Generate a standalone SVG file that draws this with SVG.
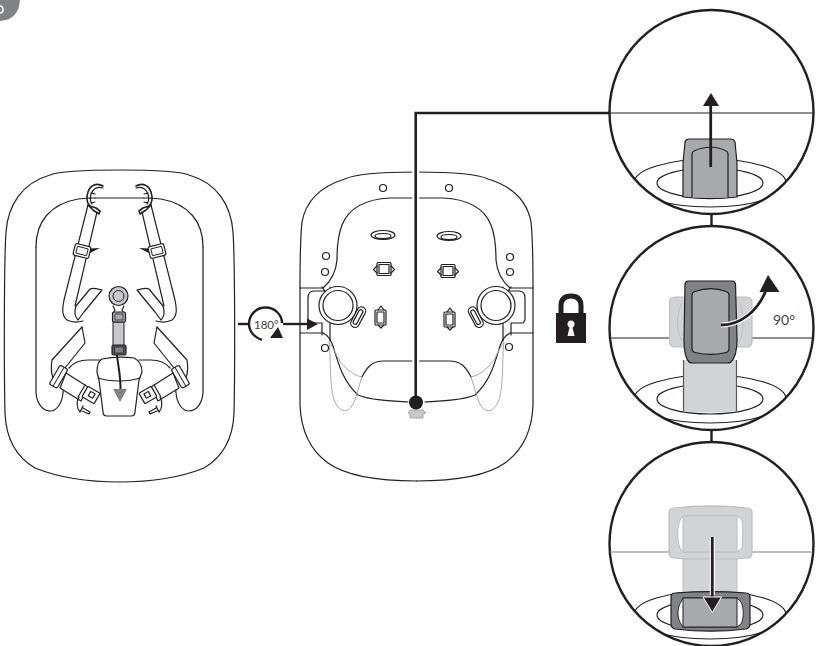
<svg xmlns="http://www.w3.org/2000/svg" xmlns:xlink="http://www.w3.org/1999/xlink" width="829" height="646" viewBox="0 0 829 646">
<style>
.l{fill:none;stroke:#231f20;stroke-width:1.2;stroke-linejoin:round;stroke-linecap:round}
.w{fill:#fff;stroke:#231f20;stroke-width:1.2;stroke-linejoin:round}
.t{fill:none;stroke:#231f20;stroke-width:.9}
.g{fill:none;stroke:#a7a9ac;stroke-width:1}
.zoom{fill:#fff;stroke:#231f20;stroke-width:2.400}
.cn{fill:none;stroke:#231f20;stroke-width:2.400}
.ar{fill:none;stroke:#231f20;stroke-width:2.800}
.halo{fill:none;stroke:#fff;stroke-width:5}
.hd{fill:#231f20;stroke:none}
.lt{fill:#d1d3d4;stroke:#bcbec0;stroke-width:1.2}
.md{fill:#a7a9ac;stroke:#231f20;stroke-width:1.2}
.dk{fill:#808285;stroke:#231f20;stroke-width:1.2}
.lab{font-family:"Lato","Liberation Sans",sans-serif;fill:#414042}
</style>
<defs>
<clipPath id="c1"><circle cx="711.5" cy="112" r="102"/></clipPath>
<clipPath id="c2"><circle cx="711.5" cy="328" r="102"/></clipPath>
<clipPath id="c3"><circle cx="711.5" cy="544" r="102"/></clipPath>
<g id="harness-half">
<path class="l" d="M36,247C36,222 50,204 78,199L90,198"/>
<path class="l" d="M36,247V393C37,404 43,411 50,411C57,411 62,403 63,393C63,387 64,382 65,378"/>
<path class="l" style="stroke-width:1.600" d="M103,186C96,182 90,186 88,192C86,198 87,203 90,206L96,208L100,211L99,214L93,210L88,205"/>
<path class="l" d="M103,188C97,186 93,189 91,194C90,198 90,201 92,204"/>
<path class="l" d="M91,193L95,194M90,198L95,198M91,203L95,202"/>
<path class="l" d="M88,205L64,300C62,310 62,316 67,320C71,322 76,323 83,321"/>
<path class="l" d="M97,212L75,306"/>
<path class="l" d="M102,290C96,288 92,288 90,289L76,306C74,312 75,317 78,320L84,312Z"/>
<g transform="rotate(14 82 251)"><rect class="w" x="74" y="245" width="16" height="12" rx="2"/><rect class="t" x="76.500" y="247.500" width="11" height="7"/></g>
<path class="hd" d="M90,248.500L100,248L90,253Z"/>
<path class="l" d="M82,327L52,360C51,366 51,372 53,378"/>
<path class="l" d="M85,343L82,327M85,343L65,368"/>
<path class="l" d="M69,368C74,362 80,360 88,360H100"/>
<g transform="rotate(30 59 377)"><rect class="w" x="54" y="366" width="9" height="22" rx="2"/><path class="t" d="M58.500,366V388"/></g>
<path class="w" d="M66,373L88,387L81,401L60,388Z"/>
<g transform="rotate(30 91 395)"><rect class="w" x="84" y="389" width="14" height="12" rx="1"/><rect class="w" x="89" y="392" width="5" height="5"/></g>
<path class="l" d="M79,397C76,402 77,409 80,412L83,406M83,408L90,412L89,414L82,411"/>
<path class="l" d="M85,385L78,397"/>
</g>
<g id="seat-half">
<path class="l" d="M416.500,172C385,172 355,174 345,179C322,186 306,200 302,222C300,240 300,270 300,288H323C330,282 336,272 337,260C337,245 338,235 342,225C350,205 370,199 390,198L416.500,198"/>
<path class="l" d="M300,288V333M300,333H323C327,335 331,340 333,346C338,362 342,380 358,395C370,400 390,401 408,402"/>
<path class="l" d="M300,333V405C301,432 310,450 328,463C345,475 375,481 416.500,481"/>
<path class="l" d="M416.500,361H384C372,361 367,367 362,377"/>
<path class="g" d="M329,342C331,352 329,390 335,402C340,413 349,414 354,402C358,392 359,385 362,377C352,375 341,366 335,352C333,348 331,345 329,342"/>
<path class="l" d="M325,291H314C310,291 308,294 308,298V320L310,323H322M322,323V335M330,323V341M325,291L322,287M330,291V287"/>
</g>
</defs>

<g id="connectors">
<path class="cn" d="M238,324H248"/>
<path class="cn" d="M283,324H308"/>
<path class="hd" d="M307,318.500L318,324L307,330Z"/>
<path class="cn" d="M262,340C254,337 249,331 249,324C249,315 256,307.500 265.500,307.500C275,307.500 282,315 282,323"/>
<path class="hd" d="M270,338L283,338L278,327Z"/>
<path class="cn" d="M711.500,214V226"/>
<path class="cn" d="M711.500,430V442"/>
</g>

<g id="badge">
<path fill="#808285" d="M0,0H20C19,13 13,20 0,21Z"/>
<path fill="none" stroke="#fff" stroke-width="1.500" d="M0,6C2,6 3,8 3,10C3,12 2,13 0,13"/>
</g>

<g id="harness-seat">
<path class="l" d="M119.500,170C85,170 60,171 50,175C22,183 8,205 6,232C4,260 4,370 5,413C6,440 18,458 35,468C60,478 90,482 119.500,482C149,482 179,478 204,468C221,458 233,440 234,413C235,370 235,260 233,232C231,205 217,183 189,175C179,171 154,170 119.500,170Z"/>
<path class="l" d="M95,198H144"/>
<use href="#harness-half"/>
<use href="#harness-half" transform="translate(239 0) scale(-1 1)"/>
<path class="w" d="M102,359C112,357 126,357 134,358C140,361 142,366 142,372L139,380L135,412C135,415 134,416 131,416H107C104,416 103,415 103,412L99,380L97,372C97,366 98,361 102,359Z"/>
<path class="l" d="M98,378C110,382 128,382 140,378"/>
<rect x="113" y="322" width="11" height="24" fill="#c8c8ca" stroke="#231f20" stroke-width="1"/>
<path class="l" d="M113,306L115,310L113,313H124L122,310L124,306"/>
<circle cx="118.500" cy="296" r="9.500" fill="#c8c8ca" stroke="#231f20" stroke-width="1.200"/>
<circle cx="118.500" cy="296" r="5.500" fill="#c8c8ca" stroke="#231f20" stroke-width="1"/>
<rect x="112.500" y="312" width="13" height="10" rx="1.500" fill="#a7a9ac" stroke="#231f20" stroke-width="1.200"/>
<rect x="115" y="314" width="8" height="6" fill="#a7a9ac" stroke="#231f20" stroke-width=".7"/>
<rect x="112" y="345" width="14" height="10" rx="1.500" fill="#58595b" stroke="#231f20" stroke-width="1.200"/>
<rect x="114.500" y="347" width="9" height="6" fill="#808285" stroke="#231f20" stroke-width=".7"/>
<path d="M117,355C118,366 121,376 120.500,392" fill="none" stroke="#231f20" stroke-width="2"/>
<path fill="#808285" d="M113,389H127L120,402Z"/>
</g>

<g id="shell-seat">
<use href="#seat-half"/>
<use href="#seat-half" transform="translate(833 0) scale(-1 1)"/>
<g class="l">
<circle cx="383" cy="188" r="3.500"/><circle cx="449" cy="188" r="3.500"/>
<circle cx="326" cy="256" r="3.500"/><circle cx="325" cy="272" r="3.500"/><circle cx="325" cy="348" r="3.500"/>
<circle cx="510" cy="257" r="3.500"/><circle cx="510" cy="272" r="3.500"/><circle cx="509" cy="347" r="3.500"/>
<ellipse cx="383" cy="235" rx="12" ry="4.500"/><ellipse cx="383" cy="236" rx="8" ry="2.500"/>
<ellipse cx="449" cy="236" rx="12" ry="4.500"/><ellipse cx="449" cy="237" rx="8" ry="2.500"/>
<path d="M377,266L373.500,269.500L377,273M391,266L394.500,269.500L391,273"/>
<rect x="377" y="262.500" width="14" height="13" rx="1"/><rect x="379" y="264.500" width="10" height="9"/>
<path d="M441,268L437.500,271.500L441,275M455,268L458.500,271.500L455,275"/>
<rect x="441" y="264.500" width="14" height="13" rx="1"/><rect x="443" y="266.500" width="10" height="9"/>
<path d="M378,310L381,306L384,310M378,325L381,328L384,325"/>
<rect x="375" y="310" width="11" height="15" rx="1"/><rect x="377" y="312" width="7" height="11"/>
<path d="M447,312L450,308L453,312M447,327L450,330L453,327"/>
<rect x="444" y="312" width="11" height="15" rx="1"/><rect x="446" y="314" width="7" height="11"/>
</g>
<circle class="w" cx="338" cy="305.500" r="19"/><circle class="l" cx="338" cy="305.500" r="15"/>
<circle class="w" cx="496" cy="305.500" r="19"/><circle class="l" cx="496" cy="305.500" r="15"/>
<g transform="rotate(28 358 317)"><rect class="w" x="354" y="306" width="8.500" height="22" rx="4"/><rect class="l" x="356" y="309" width="4" height="16" rx="2"/></g>
<g transform="rotate(-28 476 317)"><rect class="w" x="471.500" y="306" width="8.500" height="22" rx="4"/><rect class="l" x="473.500" y="309" width="4" height="16" rx="2"/></g>
<path fill="#c8c8ca" stroke="#a7a9ac" stroke-width="1" d="M410,410L408,413L410,414V418H423V414L426,413L423,410Z"/>
</g>

<g id="leader">
<path fill="none" stroke="#fff" stroke-width="7" d="M415.700,402V170"/>
<path fill="none" stroke="#231f20" stroke-width="2.600" d="M415.700,402V113H611"/>
<circle cx="416" cy="402.500" r="7" fill="#231f20"/>
</g>

<g id="rotate-label"><text class="lab" x="254" y="329" font-size="11.500">180°</text></g>

<g id="lock">
<path fill="none" stroke="#231f20" stroke-width="5" d="M561,314V306C561,299 565,296 571,296C577,296 581,299 581,306V314"/>
<rect x="556" y="313" width="30" height="30" fill="#231f20"/>
<path fill="#fff" d="M567.500,336L569.500,327.500C568,326.500 567.500,325.500 567.500,324C567.500,322 569,320.500 571,320.500C573,320.500 574.500,322 574.500,324C574.500,325.500 574,326.500 572.500,327.500L574.500,336Z"/>
</g>

<g id="zoom-1">
<circle class="zoom" cx="711.500" cy="112" r="102"/>
<g clip-path="url(#c1)">
<path class="l" d="M610,113H813"/>
<ellipse class="l" cx="710" cy="183" rx="76" ry="24"/>
<ellipse class="l" cx="710" cy="183" rx="53" ry="15"/>
</g>
<path class="md" d="M683,197V163L685,142C685.500,140 687,139 689,139H731C733,139 734,140 735,142L737,163V197C720,199 700,199 683,197Z"/>
<path class="md" d="M692,197.500V154C692,152 693,151.500 694,151C704,146 718,146 726,151C727.500,151.500 728,152 728,154V197.500"/>
<path class="ar" d="M710.700,167V104"/>
<path class="hd" d="M711,93L703,106H719Z"/>
</g>

<g id="zoom-2">
<circle class="zoom" cx="711.500" cy="328" r="102"/>
<g clip-path="url(#c2)">
<path class="l" d="M610,338H813"/>
<ellipse class="l" cx="710" cy="399" rx="76" ry="24"/>
<ellipse class="l" cx="710" cy="399" rx="53" ry="15"/>
</g>
<rect class="lt" x="669.500" y="297" width="82.500" height="50" rx="5"/>
<path fill="none" stroke="#bcbec0" d="M682,303C676,314 676,330 682,341M740,303C744,314 744,330 740,341"/>
<path class="lt" style="stroke:none" d="M683,360H737V411C720,413 700,413 683,411Z"/>
<path fill="none" stroke="#58595b" stroke-width="1.200" d="M683.500,360V411M736.500,360V411"/>
<path class="dk" d="M688,281H732C734,281 735,282 735.500,284L737,340C737,350 735,358 731,362C730,363 728,363 727,363H693C691,363 690,363 689,362C685,358 684,350 684,340L685,284C685.500,282 686,281 688,281Z"/>
<path class="md" d="M692,295C692,293 693,292 695,291.500C705,288 717,288 726,291.500C728,292 729,293 729,295V348C729,351 728,352 726,352.500C716,355 705,355 695,352.500C693,352 692,351 692,348Z"/>
<path class="halo" d="M721,325C740,325 758,312 765,292"/>
<path class="ar" d="M721,325C740,325 758,312 767,288"/>
<path class="hd" d="M768,275L759.500,292H779.500Z"/>
<text class="lab" x="773" y="325" font-size="14">90°</text>
</g>

<g id="zoom-3">
<circle class="zoom" cx="711.500" cy="544" r="102"/>
<g clip-path="url(#c3)">
<path fill="none" stroke="#808285" stroke-width="1.200" d="M610,552H813"/>
<ellipse class="l" cx="710" cy="615" rx="76" ry="24"/>
<ellipse class="l" cx="710" cy="615" rx="53" ry="15"/>
</g>
<path class="lt" d="M674,508C700,505 722,505 747,508C750,508 752,510 752,513V553C752,556 750,558 747,558C722,561 700,561 674,558C671,558 669,556 669,553V513C669,510 671,508 674,508Z"/>
<path fill="#fff" stroke="#bcbec0" d="M683,516H737L742,520C743,528 743,540 742,548L737,552H683L680,548C677,540 677,528 680,520Z"/>
<rect x="683" y="516" width="54" height="36" fill="#d1d3d4" stroke="#bcbec0"/>
<rect x="683" y="559" width="54" height="36" fill="#d1d3d4" stroke="#bcbec0"/>
<path class="dk" d="M675,593C700,591 722,591 746,593C749,593 750,594 750,597V624C750,627 749,628 746,629C722,632 700,632 675,629C672,628 671,627 671,624V597C671,594 672,593 675,593Z"/>
<path fill="#fff" stroke="#231f20" stroke-width=".9" d="M683,598H737L741,602C744,608 744,618 741,624L737,627H683L681,624C677,618 677,608 681,602Z"/>
<rect x="683" y="598" width="54" height="29" fill="#a7a9ac" stroke="#231f20"/>
<path fill="none" stroke="#fff" stroke-width="5" d="M712.300,537V595"/>
<path class="ar" d="M712.300,537V600"/>
<path fill="#231f20" stroke="#fff" stroke-width="1" d="M703,597H721.500L712.300,612.500Z"/>
</g>
</svg>
